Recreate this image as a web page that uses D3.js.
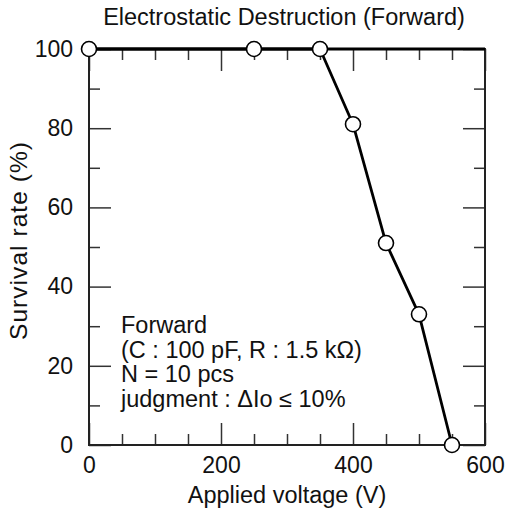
<!DOCTYPE html>
<html>
<head>
<meta charset="utf-8">
<script src="https://cdn.jsdelivr.net/npm/d3@7"></script>
<style>
  html, body { margin: 0; padding: 0; background: #fff; }
  svg { display: block; font-family: "Liberation Sans", Arial, sans-serif; }
</style>
</head>
<body>
<svg id="chart" width="505" height="514"></svg>
<script>
// ---- data ----
const voltages = [0, 250, 350, 400, 450, 500, 550];
const survival = [100, 100, 100, 81, 51, 33, 0];
const xMajorTicks = [0, 200, 400, 600];
const xMinorTicks = [50, 100, 150, 250, 300, 350, 450, 500, 550];
const yMajorTicks = [0, 20, 40, 60, 80, 100];
const yMinorTicks = [10, 30, 50, 70, 90];
const titleText = "Electrostatic Destruction (Forward)";
const xLabel = "Applied voltage  (V)";
const yLabel = "Survival rate  (%)";
const noteLines = ["Forward", "(C : 100 pF, R : 1.5 k\u03A9)", "N = 10 pcs", "judgment : \u0394Io \u2264 10%"];

// ---- layout ----
const W = 505, H = 514;
const m = {left: 89, right: 20, top: 49, bottom: 69};
const svg = d3.select("#chart");
const x = d3.scaleLinear().domain([0, 600]).range([m.left, W - m.right]);
const y = d3.scaleLinear().domain([0, 100]).range([H - m.bottom, m.top]);
const fsTick = 23, fsLabel = 23.5;

function styleAxis(g) {
  g.select(".domain").remove();
  g.selectAll(".tick line").attr("stroke", "#333").attr("stroke-width", 1.5);
  g.selectAll("text").attr("fill", "#111").style("font-size", fsTick + "px")
    .style("font-family", "'Liberation Sans', Arial, sans-serif");
}

// bottom axis
svg.append("g").attr("transform", `translate(0,${y(0)})`)
  .call(d3.axisBottom(x).tickValues(xMajorTicks).tickSize(-22).tickPadding(12).tickFormat(d3.format("d")))
  .call(styleAxis);
svg.append("g").attr("transform", `translate(0,${y(0)})`)
  .call(d3.axisBottom(x).tickValues(xMinorTicks).tickSize(-11).tickFormat(""))
  .call(styleAxis);
// top axis
svg.append("g").attr("transform", `translate(0,${y(100)})`)
  .call(d3.axisTop(x).tickValues(xMajorTicks).tickSize(-22).tickFormat(""))
  .call(styleAxis);
svg.append("g").attr("transform", `translate(0,${y(100)})`)
  .call(d3.axisTop(x).tickValues(xMinorTicks).tickSize(-11).tickFormat(""))
  .call(styleAxis);
// left axis
svg.append("g").attr("transform", `translate(${x(0)},0)`)
  .call(d3.axisLeft(y).tickValues(yMajorTicks).tickSize(-22).tickPadding(16).tickFormat(d3.format("d")))
  .call(styleAxis);
svg.append("g").attr("transform", `translate(${x(0)},0)`)
  .call(d3.axisLeft(y).tickValues(yMinorTicks).tickSize(-11).tickFormat(""))
  .call(styleAxis);
// right axis
svg.append("g").attr("transform", `translate(${x(600)},0)`)
  .call(d3.axisRight(y).tickValues(yMajorTicks).tickSize(-22).tickFormat(""))
  .call(styleAxis);
svg.append("g").attr("transform", `translate(${x(600)},0)`)
  .call(d3.axisRight(y).tickValues(yMinorTicks).tickSize(-11).tickFormat(""))
  .call(styleAxis);

// frame
svg.append("rect")
  .attr("x", x(0)).attr("y", y(100))
  .attr("width", x(600) - x(0)).attr("height", y(0) - y(100))
  .attr("fill", "none").attr("stroke", "#222").attr("stroke-width", 2);
// thicker top edge
svg.append("line")
  .attr("x1", x(0)).attr("x2", x(600)).attr("y1", y(100)).attr("y2", y(100))
  .attr("stroke", "#000").attr("stroke-width", 3);

// data line
const pts = voltages.map((v, i) => ({v, s: survival[i]}));
svg.append("path").datum(pts)
  .attr("fill", "none").attr("stroke", "#000").attr("stroke-width", 2.8)
  .attr("stroke-linejoin", "round")
  .attr("d", d3.line().x(d => x(d.v)).y(d => y(d.s)));
svg.append("g").selectAll("circle").data(pts).join("circle")
  .attr("cx", d => x(d.v)).attr("cy", d => y(d.s)).attr("r", 7.5)
  .attr("fill", "#fff").attr("stroke", "#000").attr("stroke-width", 1.6);

// title
svg.append("text").attr("x", 284).attr("y", 25)
  .attr("text-anchor", "middle").style("font-size", fsLabel + "px").attr("fill", "#111")
  .text(titleText);
// x label
svg.append("text").attr("x", (x(0) + x(600)) / 2).attr("y", 503)
  .attr("text-anchor", "middle").style("font-size", fsLabel + "px").attr("fill", "#111")
  .text(xLabel);
// y label
svg.append("text")
  .attr("transform", `translate(27,241) rotate(-90)`)
  .attr("text-anchor", "middle").style("font-size", "24.5px").attr("fill", "#111")
  .attr("textLength", 198).attr("lengthAdjust", "spacing")
  .text(yLabel);
// note
const note = svg.append("text").attr("fill", "#111").style("font-size", fsLabel + "px");
noteLines.forEach((t, i) => {
  note.append("tspan").attr("x", 121).attr("y", 333 + i * 24.7).text(t);
});
</script>
</body>
</html>
